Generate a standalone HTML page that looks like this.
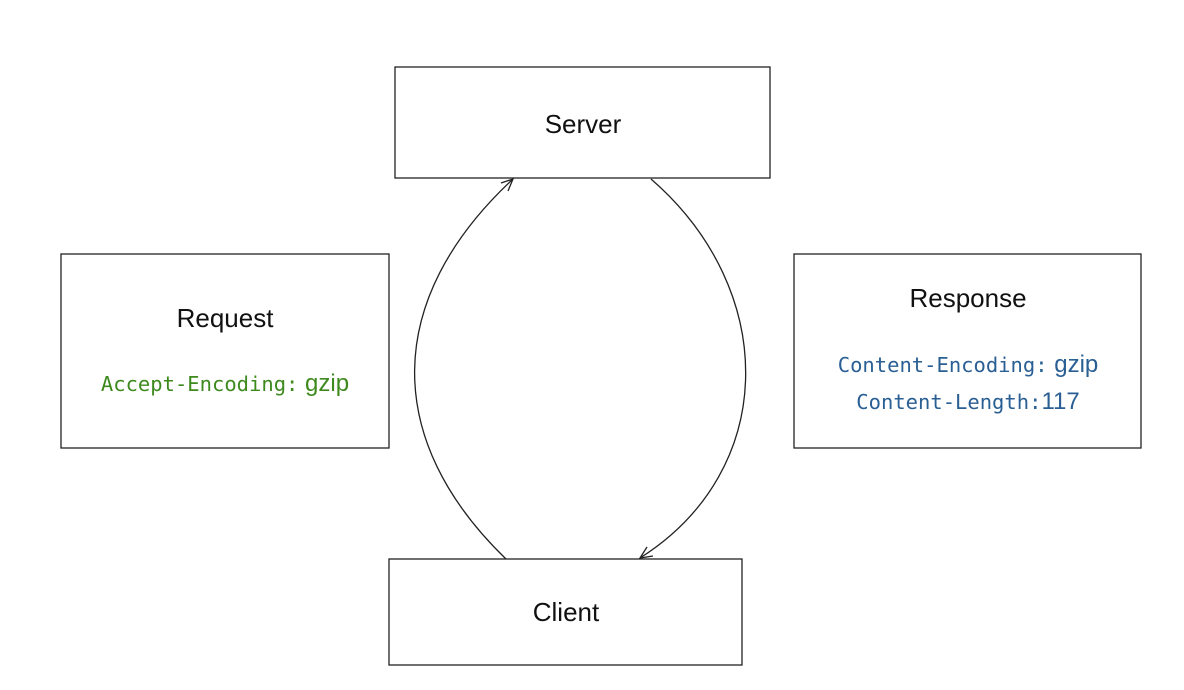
<!DOCTYPE html>
<html><head><style>
html,body{margin:0;padding:0;background:#fff;}
svg{display:block;}
.s{font-family:"Liberation Sans",Arial,sans-serif;fill:#111;}
.m{font-family:"DejaVu Sans Mono","Liberation Mono",monospace;font-size:20.5px;}
</style></head><body>
<svg width="1184" height="690" viewBox="0 0 1184 690">
<g fill="#fff" stroke="#222" stroke-width="1.3">
<rect x="395" y="67" width="375" height="111"/>
<rect x="61" y="254" width="328" height="194"/>
<rect x="794" y="254" width="347" height="194"/>
<rect x="389" y="559" width="353" height="106"/>
</g>
<g fill="none" stroke="#222" stroke-width="1.3">
<path d="M506 559 C383 440 383 300 513 179"/>
<path d="M501 183 L513 179 L508 191"/>
<path d="M651 179 C779 290 779 470 640 558"/>
<path d="M653 556 L640 558 L647 547"/>
</g>
<text class="s" x="583" y="133" font-size="26" text-anchor="middle">Server</text>
<text class="s" x="225" y="327" font-size="26" text-anchor="middle">Request</text>
<text class="s" x="968" y="307" font-size="26" text-anchor="middle">Response</text>
<text class="s" x="566" y="621" font-size="26" text-anchor="middle">Client</text>
<text x="225" y="391" text-anchor="middle" fill="#3e8a1e"><tspan class="m">Accept-Encoding:</tspan><tspan font-family="Liberation Sans,sans-serif" font-size="24"> gzip</tspan></text>
<text x="968" y="372" text-anchor="middle" fill="#2a5f94"><tspan class="m">Content-Encoding:</tspan><tspan font-family="Liberation Sans,sans-serif" font-size="24"> gzip</tspan></text>
<text x="968" y="409" text-anchor="middle" fill="#2a5f94"><tspan class="m">Content-Length:</tspan><tspan font-family="Liberation Sans,sans-serif" font-size="24">117</tspan></text>
</svg>
</body></html>
